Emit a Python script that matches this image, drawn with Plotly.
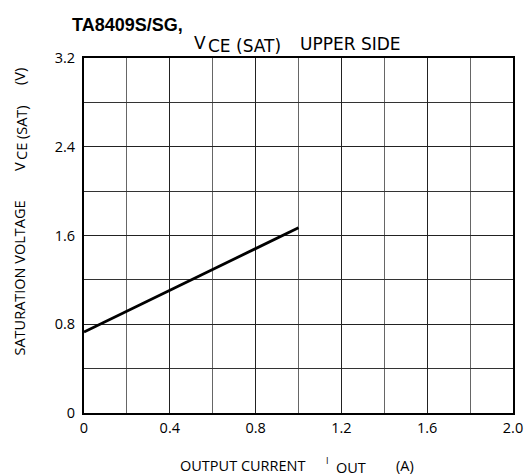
import plotly.graph_objects as go

# Data
current_a = [0.0, 1.0]
vce_sat_v = [0.73, 1.67]

x_tickvals = [0, 0.4, 0.8, 1.2, 1.6, 2.0]
x_ticktext = ["0", "0.4", "0.8", "1.2", "1.6", "2.0"]
y_tickvals = [0, 0.8, 1.6, 2.4, 3.2]
y_ticktext = ["0", "0.8", "1.6", "2.4", "3.2"]

FONT = "Open Sans, DejaVu Sans, sans-serif"
TFONT = "DejaVu Sans, Open Sans, sans-serif"

# plot area in page pixels
PL, PR, PT, PB = 84, 513, 58, 413
W, H = 529, 476


def px(x):
    return (x - PL) / (PR - PL)


def py(y):
    return (PB - y) / (PB - PT)


fig = go.Figure()
fig.add_trace(go.Scatter(x=current_a, y=vce_sat_v, mode="lines",
                         line=dict(color="black", width=2.8), showlegend=False,
                         hoverinfo="skip"))

fig.update_layout(
    width=W, height=H,
    margin=dict(l=PL, r=W - PR, t=PT, b=H - PB, autoexpand=False),
    paper_bgcolor="white", plot_bgcolor="white",
    font=dict(family=FONT, size=14, color="black"),
)


def ann(text, x, y, size, angle=0, family=FONT, xanchor="center"):
    fig.add_annotation(text=text, xref="paper", yref="paper", x=px(x), y=py(y),
                       xanchor=xanchor, yanchor="middle", textangle=angle,
                       showarrow=False, font=dict(size=size, family=family, color="black"))


ann("<b>TA8409S/SG,</b>", 70, 25, 18, family="Liberation Sans, Arial, sans-serif", xanchor="left")
# chart title
ann("V", 200, 43, 17, family=TFONT)
ann("CE (SAT)", 244, 46, 17, family=TFONT)
ann("UPPER SIDE", 350, 43.5, 17, family=TFONT)
# x title
ann("OUTPUT CURRENT", 242.5, 465, 14.5)
ann("I", 327, 460, 9)
ann("OUT", 351, 467, 14.5)
ann("(A)", 405, 465, 14.5)
# y title
ann("SATURATION VOLTAGE", 19, 278.5, 14.5, angle=-90)
ann("V", 19, 167, 14.5, angle=-90)
ann("CE (SAT)", 21, 133, 14.5, angle=-90)
ann("(V)", 19, 77, 14.5, angle=-90)

fig.update_xaxes(range=[0, 2.0], tickvals=x_tickvals, ticktext=x_ticktext,
                 showgrid=True, gridcolor="#222", gridwidth=1.2,
                 minor=dict(dtick=0.2, showgrid=True, gridcolor="#666", gridwidth=1.2),
                 showline=True, linecolor="black", linewidth=2, mirror=True,
                 ticks="", zeroline=False, tickfont=dict(size=14.5), ticklabelstandoff=1,
                 tickangle=0, ticklabelposition="outside",
                 automargin=False, ticklabeloverflow="allow")
fig.update_yaxes(range=[0, 3.2], tickvals=y_tickvals, ticktext=y_ticktext,
                 showgrid=True, gridcolor="#222", gridwidth=1.2,
                 minor=dict(dtick=0.4, showgrid=True, gridcolor="#333", gridwidth=1.2),
                 showline=True, linecolor="black", linewidth=2, mirror=True,
                 ticks="", zeroline=False, tickfont=dict(size=14.5), ticklabelstandoff=4,
                 automargin=False, ticklabeloverflow="allow")

fig.write_html("out.html", config={"displayModeBar": False},
               post_script="document.body.style.margin='0';document.body.style.overflow='hidden';")
